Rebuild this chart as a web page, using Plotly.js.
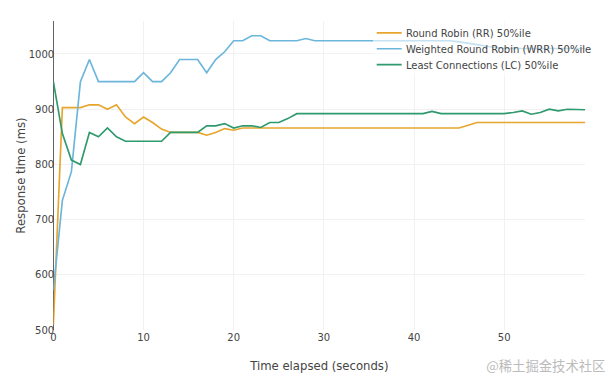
<!DOCTYPE html>
<html>
<head>
<meta charset="utf-8">
<script src="https://cdn.plot.ly/plotly-3.0.1.min.js"></script>
<style>
html,body{margin:0;padding:0;background:#fff;overflow:hidden;width:612px;height:376px;}
#chart{width:734px;height:451px;transform:scale(0.8338);transform-origin:0 0;}
</style>
</head>
<body>
<div id="chart"></div>
<script>
const timeSec = [0,1,2,3,4,5,6,7,8,9,10,11,12,13,14,15,16,17,18,19,20,21,22,23,24,25,26,27,28,29,30,31,32,33,34,35,36,37,38,39,40,41,42,43,44,45,46,47,48,49,50,51,52,53,54,55,56,57,58,59];

const rrP50 = [510,903,903,903,908,908,900,908,886,874,886,876,864,858,858,858,858,853,858,865,862,866,866,866,866,866,866,866,866,866,866,866,866,866,866,866,866,866,866,866,866,866,866,866,866,866,871,876,876,876,876,876,876,876,876,876,876,876,876,876];

const wrrP50 = [572,735,787,950,990,950,950,950,950,950,966,950,950,966,990,990,990,966,990,1004,1024,1024,1033,1033,1024,1024,1024,1024,1028,1024,1024,1024,1024,1024,1024,1024,1024,1024,1024,1024,1024,1024,1024,1024,1024,1022,1020,1017,1014,1012,1010,1010,1010,1010,1010,1010,1010,1010,1010,1010];

const lcP50 = [950,856,808,800,858,850,866,850,842,842,842,842,842,858,858,858,858,870,870,874,866,870,870,867,876,876,883,892,892,892,892,892,892,892,892,892,892,892,892,892,892,892,896,892,892,892,892,892,892,892,892,894,897,891,894,900,897,900,899,899];

const seriesNames = ["Round Robin (RR) 50%ile", "Weighted Round Robin (WRR) 50%ile", "Least Connections (LC) 50%ile"];
const yTicks = [500,600,700,800,900,1000];
const xTicks = [0,10,20,30,40,50];

const FONT = "DejaVu Sans, Verdana, sans-serif";
const traces = [
  {x: timeSec, y: rrP50, name: seriesNames[0], mode: "lines", line: {color: "#E7A52C", width: 2}},
  {x: timeSec, y: wrrP50, name: seriesNames[1], mode: "lines", line: {color: "#6CB6DB", width: 2}},
  {x: timeSec, y: lcP50, name: seriesNames[2], mode: "lines", line: {color: "#2E9A6E", width: 2}}
];

const layout = {
  width: 734, height: 451,
  margin: {l: 64, r: 32, t: 25, b: 55},
  paper_bgcolor: "#fff", plot_bgcolor: "#fff",
  font: {family: FONT, size: 12, color: "#444"},
  showlegend: true,
  legend: {x: 0.6, y: 1.0, xanchor: "left", yanchor: "top", bgcolor: "rgba(255,255,255,0.6)", font: {family: FONT, size: 12, color: "#444"}},
  xaxis: {
    range: [0, 59], tickvals: xTicks, ticktext: xTicks.map(String),
    showgrid: true, gridcolor: "#eee", zeroline: true, zerolinecolor: "#444", zerolinewidth: 1,
    showline: false, ticks: "", tickfont: {size: 12, color: "#444"},
    title: {text: "Time elapsed (seconds)", font: {size: 14, color: "#444"}, standoff: 23}
  },
  yaxis: {
    range: [500, 1060], tickvals: yTicks, ticktext: yTicks.map(String),
    showgrid: true, gridcolor: "#eee", zeroline: false, showline: false, ticks: "",
    ticklabelstandoff: -2,
    tickfont: {size: 12, color: "#444"},
    title: {text: "Response time (ms)", font: {size: 14, color: "#444"}, standoff: 0}
  },
  annotations: [{
    text: "@稀土掘金技术社区", xref: "paper", yref: "paper", x: 1.041, y: -0.113,
    xanchor: "right", yanchor: "middle", showarrow: false,
    font: {family: "Noto Sans CJK SC", size: 16, color: "#bbb"}
  }]
};

Plotly.newPlot("chart", traces, layout, {displayModeBar: false, staticPlot: true});
</script>
</body>
</html>
